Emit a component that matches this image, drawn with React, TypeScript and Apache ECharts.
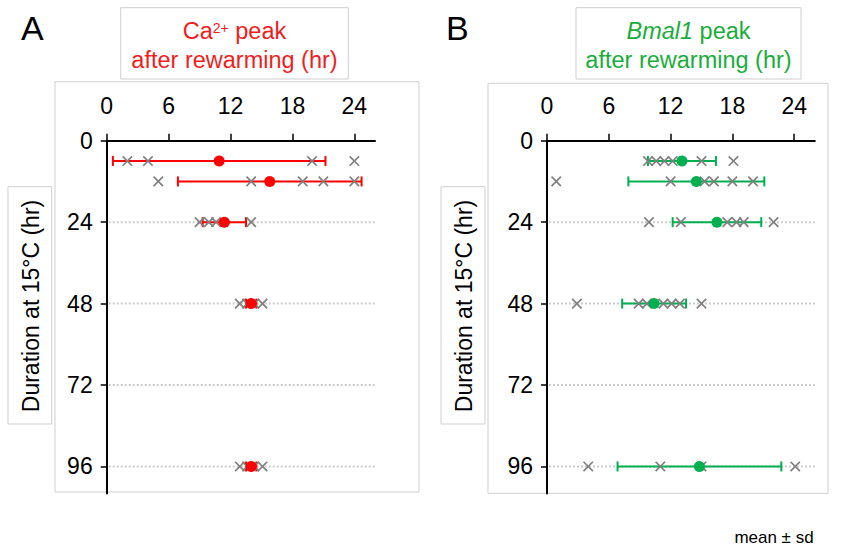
import React, { useEffect, useRef } from 'react';
import * as echarts from 'echarts';

// ---------- data ----------
const xTicks = [0, 6, 12, 18, 24];
const yTicks = [0, 24, 48, 72, 96];
const gridRows = [24, 48, 72, 96];
const rows = [6, 12, 24, 48, 96];

// Panel A: Ca2+ peak
const meanA = [10.9, 15.8, 11.4, 14.0, 14.0];
const sdA = [10.3, 8.9, 2.1, 0.5, 0.5];
const ptsA6 = [2.0, 4.0, 19.9, 24.0];
const ptsA12 = [5.0, 14.0, 19.0, 21.0, 24.0];
const ptsA24 = [9.0, 9.9, 10.6, 14.0];
const ptsA48 = [12.9, 13.6, 14.3, 15.1];
const ptsA96 = [12.9, 13.6, 14.3, 15.1];

// Panel B: Bmal1 peak
const meanB = [13.1, 14.5, 16.5, 10.4, 14.8];
const sdB = [3.3, 6.6, 4.3, 3.1, 7.95];
const ptsB6 = [9.8, 10.6, 11.4, 12.2, 15.0, 18.1];
const ptsB12 = [0.9, 12.0, 15.3, 16.2, 18.0, 20.0];
const ptsB24 = [9.9, 13.0, 17.5, 18.4, 19.1, 22.0];
const ptsB48 = [2.9, 8.9, 9.7, 11.3, 12.1, 12.9, 15.0];
const ptsB96 = [4.0, 11.0, 15.0, 24.1];

const pointsA = [ptsA6, ptsA12, ptsA24, ptsA48, ptsA96];
const pointsB = [ptsB6, ptsB12, ptsB24, ptsB48, ptsB96];

const XMIN = 0, XMAX = 26, YMIN = 0, YMAX = 104;

const FONT = 'Liberation Sans, Arial, Helvetica, sans-serif';
const RED = '#ff0000';
const GREEN = '#00b050';
const GRAY = '#808080';

function panelAxes(idx: number) {
  const x = {
    gridIndex: idx, type: 'value', position: 'top', min: XMIN, max: XMAX, interval: 6,
    axisLine: { show: true, onZero: false, lineStyle: { color: '#000', width: 2 } },
    axisTick: { show: true, length: 7, lineStyle: { color: '#000', width: 1.5 }, customValues: xTicks },
    axisLabel: { show: true, margin: 23, fontSize: 23, color: '#000', fontFamily: FONT, customValues: xTicks },
    splitLine: { show: false },
  };
  const y = {
    gridIndex: idx, type: 'value', inverse: true, min: YMIN, max: YMAX, interval: 24,
    axisLine: { show: true, onZero: false, lineStyle: { color: '#000', width: 2 } },
    axisTick: { show: true, length: 6, lineStyle: { color: '#000', width: 1.5 }, customValues: yTicks },
    axisLabel: { show: true, margin: 14, fontSize: 23, color: '#000', fontFamily: FONT, customValues: yTicks },
    splitLine: { show: false },
  };
  return { x, y };
}

function panelSeries(idx: number, means: number[], sds: number[], pts: number[][], color: string) {
  const gridSeries = {
    type: 'custom', xAxisIndex: idx, yAxisIndex: idx, silent: true,
    data: gridRows.map((r) => [XMIN, r]),
    renderItem: (params: any, api: any) => {
      const r = api.value(1);
      const a = api.coord([XMIN, r]);
      const b = api.coord([XMAX, r]);
      return {
        type: 'line',
        shape: { x1: a[0] + 2, y1: a[1], x2: b[0], y2: b[1] },
        style: { stroke: '#cccccc', lineWidth: 2, lineDash: [2, 2] },
      };
    },
  };
  const errSeries = {
    type: 'custom', xAxisIndex: idx, yAxisIndex: idx, silent: true,
    data: rows.map((r, i) => [means[i], r, sds[i]]),
    renderItem: (params: any, api: any) => {
      const m = api.value(0), r = api.value(1), s = api.value(2);
      const a = api.coord([m - s, r]);
      const b = api.coord([m + s, r]);
      const st = { stroke: color, lineWidth: 2 };
      return {
        type: 'group',
        children: [
          { type: 'line', shape: { x1: a[0], y1: a[1], x2: b[0], y2: b[1] }, style: st },
          { type: 'line', shape: { x1: a[0], y1: a[1] - 5, x2: a[0], y2: a[1] + 5 }, style: st },
          { type: 'line', shape: { x1: b[0], y1: b[1] - 5, x2: b[0], y2: b[1] + 5 }, style: st },
        ],
      };
    },
  };
  const meanSeries = {
    type: 'scatter', xAxisIndex: idx, yAxisIndex: idx, silent: true,
    symbol: 'circle', symbolSize: 11,
    itemStyle: { color, opacity: 1 },
    data: rows.map((r, i) => [means[i], r]),
  };
  const crossData: number[][] = [];
  pts.forEach((list, i) => list.forEach((v) => crossData.push([v, rows[i]])));
  const crossSeries = {
    type: 'custom', xAxisIndex: idx, yAxisIndex: idx, silent: true,
    data: crossData,
    renderItem: (params: any, api: any) => {
      const p = api.coord([api.value(0), api.value(1)]);
      const h = 4.7;
      const st = { stroke: GRAY, lineWidth: 1.7 };
      return {
        type: 'group',
        children: [
          { type: 'line', shape: { x1: p[0] - h, y1: p[1] - h, x2: p[0] + h, y2: p[1] + h }, style: st },
          { type: 'line', shape: { x1: p[0] - h, y1: p[1] + h, x2: p[0] + h, y2: p[1] - h }, style: st },
        ],
      };
    },
  };
  return [gridSeries, errSeries, meanSeries, crossSeries];
}

function rect(x: number, y: number, w: number, h: number) {
  return {
    type: 'rect', shape: { x, y, width: w, height: h }, silent: true,
    style: { fill: 'none', stroke: '#cfcfcf', lineWidth: 1 },
  };
}

export default function App() {
  const ref = useRef<HTMLDivElement>(null);
  useEffect(() => {
    if (!ref.current) return;
    const chart = echarts.init(ref.current, undefined, { renderer: 'svg' });
    const a = panelAxes(0);
    const b = panelAxes(1);
    const option: any = {
      animation: false,
      backgroundColor: '#fff',
      grid: [
        { left: 106.7, top: 140.7, width: 268.3, height: 352.9, containLabel: false },
        { left: 547, top: 140.7, width: 267.8, height: 352.9, containLabel: false },
      ],
      xAxis: [a.x, b.x],
      yAxis: [a.y, b.y],
      series: [
        ...panelSeries(0, meanA, sdA, pointsA, RED),
        ...panelSeries(1, meanB, sdB, pointsB, GREEN),
      ],
      graphic: [
        rect(55, 81.7, 364, 410.3),
        rect(488, 83.3, 340, 410),
        rect(120.7, 7.7, 227.6, 71.3),
        rect(576, 7.7, 225, 71.3),
        rect(8, 186.7, 43.7, 237.3),
        rect(441, 186.7, 44, 237.3),
        {
          type: 'text', left: 21, top: 11, silent: true,
          style: { text: 'A', fontSize: 34, fontFamily: FONT, fill: '#000' },
        },
        {
          type: 'text', left: 446, top: 11, silent: true,
          style: { text: 'B', fontSize: 34, fontFamily: FONT, fill: '#000' },
        },
        {
          type: 'text', x: 234.5, y: 45, silent: true,
          style: {
            text: '{r|Ca}{s|2+}{r| peak}\n{r|after rewarming (hr)}',
            align: 'center', verticalAlign: 'middle',
            rich: {
              r: { fontSize: 23.5, lineHeight: 29, fontFamily: FONT, fill: '#f01e1e' },
              s: { fontSize: 14, lineHeight: 16, padding: [5, 0, 0, 0], verticalAlign: 'top', fontFamily: FONT, fill: '#f01e1e' },
            },
          },
        },
        {
          type: 'text', x: 688.5, y: 45, silent: true,
          style: {
            text: '{i|Bmal1}{r| peak}\n{r|after rewarming (hr)}',
            align: 'center', verticalAlign: 'middle',
            rich: {
              r: { fontSize: 23.5, lineHeight: 29, fontFamily: FONT, fill: '#1aad3c' },
              i: { fontSize: 23.5, lineHeight: 29, fontStyle: 'italic', fontFamily: FONT, fill: '#1aad3c' },
            },
          },
        },
        {
          type: 'text', x: 31, y: 306, rotation: Math.PI / 2, silent: true,
          style: { text: 'Duration at 15°C (hr)', x: 0, y: 0, align: 'center', verticalAlign: 'middle', fontSize: 23, fontFamily: FONT, fill: '#000' },
        },
        {
          type: 'text', x: 463.5, y: 306, rotation: Math.PI / 2, silent: true,
          style: { text: 'Duration at 15°C (hr)', x: 0, y: 0, align: 'center', verticalAlign: 'middle', fontSize: 23, fontFamily: FONT, fill: '#000' },
        },
        {
          type: 'text', x: 774, y: 537, silent: true,
          style: { text: 'mean ± sd', align: 'center', verticalAlign: 'middle', fontSize: 17, fontFamily: FONT, fill: '#000' },
        },
      ],
    };
    chart.setOption(option);
    return () => chart.dispose();
  }, []);
  return (
    <div
      ref={ref}
      style={{ position: 'absolute', left: 0, top: 0, width: 846, height: 550, background: '#fff' }}
    />
  );
}
